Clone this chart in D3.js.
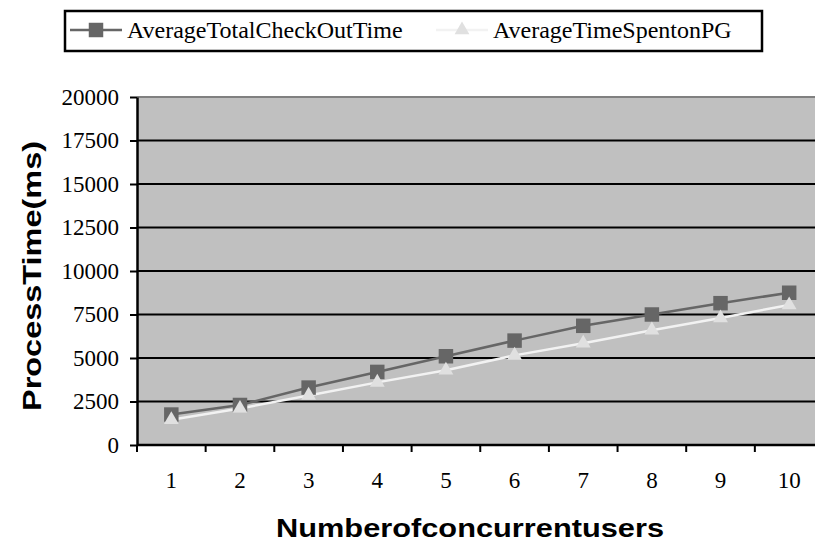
<!DOCTYPE html>
<html>
<head>
<meta charset="utf-8">
<script src="https://cdn.jsdelivr.net/npm/d3@7"></script>
<style>
  body { margin: 0; background: #fff; }
  svg { display: block; }
</style>
</head>
<body>
<div id="chart"></div>
<script>
// data
const users = [1, 2, 3, 4, 5, 6, 7, 8, 9, 10];
const checkOutTime = [1750, 2300, 3300, 4200, 5100, 6000, 6850, 7500, 8150, 8750];
const timeOnPG = [1450, 2100, 2850, 3600, 4300, 5150, 5850, 6600, 7300, 8050];
const yTicks = [0, 2500, 5000, 7500, 10000, 12500, 15000, 17500, 20000];
const seriesNames = ['AverageTotalCheckOutTime', 'AverageTimeSpentonPG'];

const width = 815, height = 543;
const margin = {top: 97, left: 137, bottom: 98};
// the plot area runs a bit past the right edge of the picture
const plotRight = 823.5;
const serif = '"Times New Roman", "Liberation Serif", serif';
const sans = 'Arial, "Liberation Sans", sans-serif';

const svg = d3.select('#chart').append('svg')
    .attr('width', width)
    .attr('height', height);

const x = d3.scaleBand()
    .domain(users)
    .range([margin.left, plotRight]);

const y = d3.scaleLinear()
    .domain([0, 20000])
    .range([height - margin.bottom, margin.top]);

// plot background
svg.append('rect')
    .attr('x', margin.left)
    .attr('y', margin.top)
    .attr('width', plotRight - margin.left)
    .attr('height', y(0) - margin.top)
    .attr('fill', '#c0c0c0');

// top border of the plot area
svg.append('line')
    .attr('x1', margin.left).attr('x2', plotRight)
    .attr('y1', margin.top).attr('y2', margin.top)
    .attr('stroke', '#808080')
    .attr('stroke-width', 2);

// gridlines
svg.append('g')
    .selectAll('line')
    .data(yTicks.filter(d => d > 0 && d < 20000))
    .join('line')
    .attr('x1', margin.left).attr('x2', plotRight)
    .attr('y1', d => y(d)).attr('y2', d => y(d))
    .attr('stroke', '#000')
    .attr('stroke-width', 2);

// y axis
const yAxisG = svg.append('g')
    .attr('transform', `translate(${margin.left},0)`)
    .call(d3.axisLeft(y).tickValues(yTicks).tickFormat(d3.format('d'))
        .tickSize(7).tickPadding(11).tickSizeOuter(0));
yAxisG.select('.domain').attr('stroke-width', 2.5);
yAxisG.selectAll('.tick line').attr('stroke-width', 2);
yAxisG.selectAll('.tick text')
    .style('font-family', serif)
    .style('font-size', '23px')
    .attr('fill', '#000');

// x axis: ticks sit between the categories
const xAxisG = svg.append('g')
    .attr('transform', `translate(0,${y(0)})`);
xAxisG.append('line')
    .attr('x1', margin.left).attr('x2', plotRight)
    .attr('stroke', '#000')
    .attr('stroke-width', 2.5);
xAxisG.selectAll('.xtick')
    .data(users)
    .join('line')
    .attr('class', 'xtick')
    .attr('x1', d => x(d)).attr('x2', d => x(d))
    .attr('y1', 0).attr('y2', 7)
    .attr('stroke', '#000')
    .attr('stroke-width', 2);
xAxisG.selectAll('.xlabel')
    .data(users)
    .join('text')
    .attr('class', 'xlabel')
    .attr('x', d => x(d) + x.bandwidth() / 2)
    .attr('y', 43)
    .attr('text-anchor', 'middle')
    .style('font-family', serif)
    .style('font-size', '23px')
    .text(d => d);

// lines
const line = d3.line()
    .x((d, i) => x(users[i]) + x.bandwidth() / 2)
    .y(d => y(d));

svg.append('path')
    .datum(timeOnPG)
    .attr('d', line)
    .attr('fill', 'none')
    .attr('stroke', '#f2f2f2')
    .attr('stroke-width', 2.5);

svg.append('path')
    .datum(checkOutTime)
    .attr('d', line)
    .attr('fill', 'none')
    .attr('stroke', '#666666')
    .attr('stroke-width', 2.5);

const square = d3.symbol().type(d3.symbolSquare).size(210);
const triangle = d3.symbol().type(d3.symbolTriangle).size(95);

svg.append('g')
    .selectAll('path')
    .data(checkOutTime)
    .join('path')
    .attr('d', square)
    .attr('transform', (d, i) => `translate(${x(users[i]) + x.bandwidth() / 2},${y(d)})`)
    .attr('fill', '#666666');

svg.append('g')
    .selectAll('path')
    .data(timeOnPG)
    .join('path')
    .attr('d', triangle)
    .attr('transform', (d, i) => `translate(${x(users[i]) + x.bandwidth() / 2},${y(d)})`)
    .attr('fill', '#e0e0e0');

// axis titles (the original glyphs are a bit wider than Arial, so stretch them)
svg.append('text')
    .attr('x', 276)
    .attr('y', 537)
    .attr('textLength', 388)
    .attr('lengthAdjust', 'spacingAndGlyphs')
    .style('font-family', sans)
    .style('font-size', '26px')
    .style('font-weight', 'bold')
    .text('Numberofconcurrentusers');

svg.append('text')
    .attr('transform', 'translate(41,411) rotate(-90)')
    .attr('textLength', 270)
    .attr('lengthAdjust', 'spacingAndGlyphs')
    .style('font-family', sans)
    .style('font-size', '26px')
    .style('font-weight', 'bold')
    .text('ProcessTime(ms)');

// legend
const legend = svg.append('g');
legend.append('rect')
    .attr('x', 65).attr('y', 11)
    .attr('width', 697).attr('height', 40)
    .attr('fill', '#fff')
    .attr('stroke', '#000')
    .attr('stroke-width', 2.5);

const legendItems = [
    {name: seriesNames[0], x0: 70, color: '#666666', marker: square, fill: '#666666'},
    {name: seriesNames[1], x0: 436, color: '#f2f2f2', marker: triangle, fill: '#e0e0e0'}
];
legendItems.forEach(it => {
    legend.append('line')
        .attr('x1', it.x0).attr('x2', it.x0 + 52)
        .attr('y1', 30).attr('y2', 30)
        .attr('stroke', it.color)
        .attr('stroke-width', 2.5);
    legend.append('path')
        .attr('d', it.marker)
        .attr('transform', `translate(${it.x0 + 26},30)`)
        .attr('fill', it.fill);
    legend.append('text')
        .attr('x', it.x0 + 57)
        .attr('y', 38)
        .style('font-family', serif)
        .style('font-size', '24px')
        .text(it.name);
});
</script>
</body>
</html>
